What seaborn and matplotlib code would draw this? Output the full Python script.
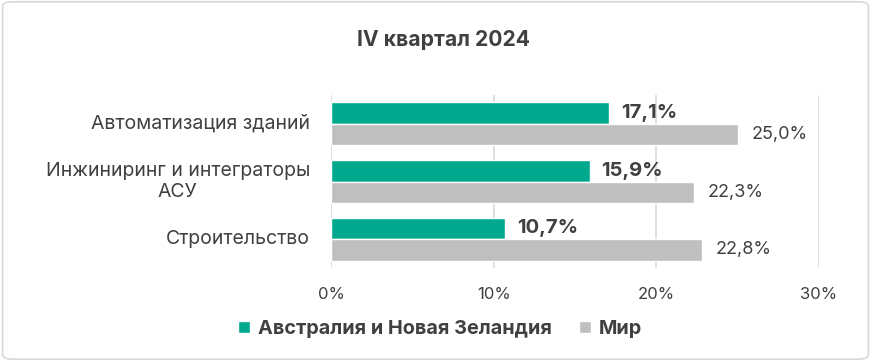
import matplotlib
matplotlib.use("Agg")
import matplotlib.pyplot as plt
import seaborn as sns
import pandas as pd
from matplotlib.patches import FancyBboxPatch, Patch
from matplotlib.transforms import blended_transform_factory

categories = ["Автоматизация зданий", "Инжиниринг и интеграторы\nАСУ", "Строительство"]
series_names = ["Австралия и Новая Зеландия", "Мир"]
anz_values = [17.1, 15.9, 10.7]
world_values = [25.0, 22.3, 22.8]
x_ticks = [0, 10, 20, 30]
x_tick_labels = ["0%", "10%", "20%", "30%"]
title = "IV квартал 2024"

colors = ["#00A88E", "#BFBFBF"]
text_color = "#404040"

df = pd.DataFrame({
    "cat": categories * 2,
    "series": [series_names[0]] * 3 + [series_names[1]] * 3,
    "value": anz_values + world_values,
})

sns.set_theme(style="white")
plt.rcParams["font.family"] = ["Inter", "DejaVu Sans"]

fig = plt.figure(figsize=(8.71, 3.61), dpi=100)
ax = fig.add_axes([331 / 871, 1 - 268 / 361, (819 - 331) / 871, (268 - 95) / 361])

sns.barplot(data=df, y="cat", x="value", hue="series", palette=colors,
            orient="h", width=0.75, ax=ax, legend=False, saturation=1)

ax.set_xlim(0, 30)
ax.set_ylim(2.5, -0.5)
ax.set_xticks(x_ticks)
ax.set_xticklabels(x_tick_labels, color=text_color, fontsize=12)
ax.tick_params(axis="x", length=0, pad=14)
ax.tick_params(axis="y", length=0)
ax.set_yticklabels([])
ax.set_xlabel("")
ax.set_ylabel("")
for s in ax.spines.values():
    s.set_visible(False)
ax.grid(axis="x", color="#D9D9D9", linewidth=1.2)
ax.set_axisbelow(True)

trans = blended_transform_factory(ax.transAxes, ax.transData)
for i, c in enumerate(categories):
    ax.text(-21 / 488, i, c, transform=trans, ha="right", va="center",
            multialignment="center", fontsize=14, color=text_color, linespacing=1.2)

conts = ax.containers
for b, v in zip(conts[0], anz_values):
    ax.annotate(f"{v:.1f}%".replace(".", ","), (b.get_width(), b.get_y() + b.get_height() / 2),
                xytext=(8.5, 0), textcoords="offset points", ha="left", va="center",
                fontsize=14.5, fontweight="bold", color=text_color)
for b, v in zip(conts[1], world_values):
    ax.annotate(f"{v:.1f}%".replace(".", ","), (b.get_width(), b.get_y() + b.get_height() / 2),
                xytext=(10, 0), textcoords="offset points", ha="left", va="center",
                fontsize=13, color=text_color)

fig.text(443 / 871, 1 - 40 / 361, title, ha="center", va="center", fontsize=15.2,
         fontweight="bold", color=text_color)

handles = [Patch(facecolor=colors[0]), Patch(facecolor=colors[1])]
leg = fig.legend(handles, series_names, loc="center", bbox_to_anchor=(440 / 871, 1 - 329 / 361),
                 ncol=2, frameon=False, handlelength=0.6, handleheight=0.6,
                 handletextpad=0.4, columnspacing=1.4,
                 prop={"size": 14.3, "weight": "bold"})
for t in leg.get_texts():
    t.set_color(text_color)

border = FancyBboxPatch((0.003, 0.005), 0.994, 0.99, boxstyle="round,pad=0,rounding_size=0.012",
                        transform=fig.transFigure, facecolor="none", edgecolor="#D9D9D9",
                        linewidth=1.2)
fig.patches.append(border)

fig.savefig("out.png", dpi=100)
